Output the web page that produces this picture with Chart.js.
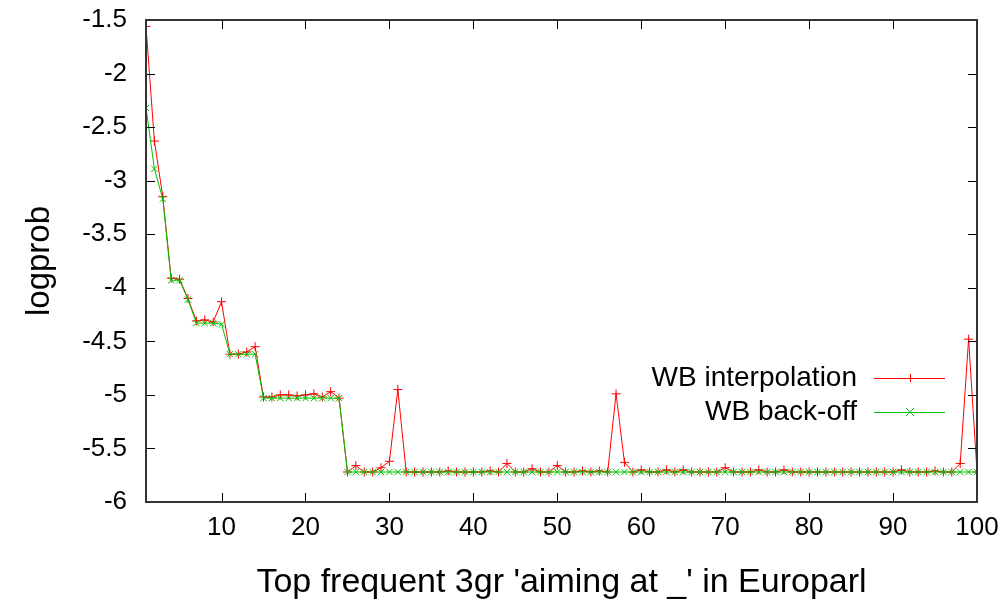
<!DOCTYPE html>
<html>
<head>
<meta charset="utf-8">
<title>logprob - aiming at _</title>
<script src="https://cdn.jsdelivr.net/npm/chart.js@4.4.1/dist/chart.umd.min.js"></script>
<style>
  html, body { margin: 0; padding: 0; background: #ffffff; }
  canvas { display: block; }
</style>
</head>
<body>
<canvas id="plotCanvas" width="1006" height="603"></canvas>
<script>
// --- Data ---
const rankLabels = Array.from({ length: 100 }, (_, i) => i + 1);

const interpolationValues = [
    -1.56, -2.63, -3.15, -3.91, -3.92, -4.10, -4.31, -4.30, -4.32, -4.13,
    -4.62, -4.62, -4.60, -4.55, -5.02, -5.02, -5.00, -5.00, -5.01, -5.00,
    -4.99, -5.02, -4.97, -5.03, -5.72, -5.66, -5.72, -5.72, -5.68, -5.62,
    -4.95, -5.72, -5.72, -5.72, -5.72, -5.72, -5.71, -5.72, -5.72, -5.72,
    -5.72, -5.71, -5.72, -5.64, -5.72, -5.72, -5.69, -5.72, -5.72, -5.66,
    -5.72, -5.72, -5.71, -5.72, -5.71, -5.72, -4.99, -5.63, -5.72, -5.70,
    -5.72, -5.72, -5.70, -5.72, -5.70, -5.72, -5.72, -5.72, -5.72, -5.68,
    -5.72, -5.72, -5.72, -5.70, -5.72, -5.72, -5.70, -5.72, -5.72, -5.72,
    -5.72, -5.72, -5.72, -5.72, -5.72, -5.72, -5.72, -5.72, -5.72, -5.72,
    -5.70, -5.72, -5.72, -5.72, -5.71, -5.72, -5.72, -5.64, -4.48, -5.72
];

const backoffValues = [
    -2.32, -2.89, -3.17, -3.93, -3.93, -4.11, -4.33, -4.33, -4.33, -4.34,
    -4.62, -4.62, -4.62, -4.62, -5.03, -5.03, -5.03, -5.03, -5.03, -5.03,
    -5.03, -5.03, -5.03, -5.03, -5.72, -5.72, -5.72, -5.72, -5.72, -5.72,
    -5.72, -5.72, -5.72, -5.72, -5.72, -5.72, -5.72, -5.72, -5.72, -5.72,
    -5.72, -5.72, -5.72, -5.72, -5.72, -5.72, -5.72, -5.72, -5.72, -5.72,
    -5.72, -5.72, -5.72, -5.72, -5.72, -5.72, -5.72, -5.72, -5.72, -5.72,
    -5.72, -5.72, -5.72, -5.72, -5.72, -5.72, -5.72, -5.72, -5.72, -5.72,
    -5.72, -5.72, -5.72, -5.72, -5.72, -5.72, -5.72, -5.72, -5.72, -5.72,
    -5.72, -5.72, -5.72, -5.72, -5.72, -5.72, -5.72, -5.72, -5.72, -5.72,
    -5.72, -5.72, -5.72, -5.72, -5.72, -5.72, -5.72, -5.72, -5.72, -5.72
];

const xTicks = [10, 20, 30, 40, 50, 60, 70, 80, 90, 100];
const yTicks = [-6, -5.5, -5, -4.5, -4, -3.5, -3, -2.5, -2, -1.5];

const seriesNames = ['WB interpolation', 'WB back-off'];
const xTitle = "Top frequent 3gr 'aiming at _' in Europarl";
const yTitle = 'logprob';

// --- Styling ---
const FONT_FAMILY = '"Liberation Sans", Arial, sans-serif';
const RED = '#ff0000';
const GREEN = '#00c000';

function toPoints(values) {
    return values.map((v, i) => ({ x: rankLabels[i], y: v }));
}

/**
 * Draws the gnuplot-like frame: box border, inward ticks mirrored on all sides,
 * and the key in the right part of the plot.
 */
const gnuplotFrame = {
    id: 'gnuplotFrame',
    afterDatasetsDraw(chart) {
        const { ctx, chartArea: a, scales } = chart;
        const tickLen = 9;
        ctx.save();
        ctx.strokeStyle = '#000000';
        ctx.lineWidth = 1;

        ctx.beginPath();
        scales.x.ticks.forEach(t => {
            const px = Math.round(scales.x.getPixelForValue(t.value)) + 0.5;
            ctx.moveTo(px, a.bottom); ctx.lineTo(px, a.bottom - tickLen);
            ctx.moveTo(px, a.top); ctx.lineTo(px, a.top + tickLen);
        });
        scales.y.ticks.forEach(t => {
            const py = Math.round(scales.y.getPixelForValue(t.value)) + 0.5;
            ctx.moveTo(a.left, py); ctx.lineTo(a.left + tickLen, py);
            ctx.moveTo(a.right, py); ctx.lineTo(a.right - tickLen, py);
        });
        ctx.stroke();

        ctx.strokeStyle = '#333333';
        ctx.lineWidth = 2;
        ctx.strokeRect(a.left, a.top, a.right - a.left, a.bottom - a.top);

        // key
        ctx.font = '28px ' + FONT_FAMILY;
        ctx.textAlign = 'right';
        ctx.textBaseline = 'middle';
        chart.data.datasets.forEach((ds, i) => {
            const y = a.top + 358 + i * 34;
            ctx.fillStyle = '#000000';
            ctx.fillText(ds.label, a.right - 120, y);
            ctx.strokeStyle = ds.borderColor;
            ctx.lineWidth = 1;
            ctx.beginPath();
            ctx.moveTo(a.right - 103, y + 0.5);
            ctx.lineTo(a.right - 32, y + 0.5);
            ctx.stroke();
            const cx = a.right - 67;
            const r = 4;
            ctx.beginPath();
            if (ds.pointStyle === 'cross') {
                ctx.moveTo(cx - r, y + 0.5); ctx.lineTo(cx + r, y + 0.5);
                ctx.moveTo(cx + 0.5, y - r); ctx.lineTo(cx + 0.5, y + r);
            } else {
                ctx.moveTo(cx - r, y - r); ctx.lineTo(cx + r, y + r);
                ctx.moveTo(cx - r, y + r); ctx.lineTo(cx + r, y - r);
            }
            ctx.stroke();
        });
        ctx.restore();
    }
};

const chart = new Chart(document.getElementById('plotCanvas'), {
    type: 'line',
    data: {
        datasets: [
            {
                label: seriesNames[0],
                data: toPoints(interpolationValues),
                borderColor: RED,
                backgroundColor: RED,
                borderWidth: 1,
                pointStyle: 'cross',
                pointRadius: 4.5,
                pointBorderWidth: 1,
                tension: 0,
                fill: false,
                order: 1
            },
            {
                label: seriesNames[1],
                data: toPoints(backoffValues),
                borderColor: GREEN,
                backgroundColor: GREEN,
                borderWidth: 1,
                pointStyle: 'crossRot',
                pointRadius: 4.5,
                pointBorderWidth: 1,
                tension: 0,
                fill: false,
                order: 0
            }
        ]
    },
    options: {
        responsive: false,
        devicePixelRatio: 1,
        animation: false,
        events: [],
        layout: { padding: { top: 20, right: 29, left: 0, bottom: 0 } },
        plugins: {
            legend: { display: false },
            tooltip: { enabled: false }
        },
        scales: {
            x: {
                type: 'linear',
                min: 1,
                max: 100,
                afterBuildTicks: scale => { scale.ticks = xTicks.map(v => ({ value: v })); },
                afterFit: scale => {
                    scale.height = 101;
                    scale.paddingLeft = 0;
                    scale.paddingRight = 0;
                },
                grid: { display: false, drawTicks: false },
                border: { display: false },
                ticks: {
                    color: '#000000',
                    font: { family: FONT_FAMILY, size: 26 },
                    padding: 10,
                    maxRotation: 0,
                    autoSkip: false,
                    callback: v => String(v)
                },
                title: {
                    display: true,
                    text: xTitle,
                    color: '#000000',
                    font: { family: FONT_FAMILY, size: 34 },
                    padding: { top: 0, bottom: 0 }
                }
            },
            y: {
                type: 'linear',
                min: -6,
                max: -1.5,
                afterBuildTicks: scale => { scale.ticks = yTicks.map(v => ({ value: v })); },
                afterFit: scale => {
                    scale.width = 146;
                    scale.paddingTop = 0;
                    scale.paddingBottom = 0;
                },
                grid: { display: false, drawTicks: false },
                border: { display: false },
                ticks: {
                    color: '#000000',
                    font: { family: FONT_FAMILY, size: 26 },
                    padding: 19,
                    autoSkip: false,
                    callback: v => String(v)
                },
                title: {
                    display: true,
                    text: yTitle,
                    color: '#000000',
                    font: { family: FONT_FAMILY, size: 33 },
                    padding: { top: 20, bottom: 0 }
                }
            }
        }
    },
    plugins: [gnuplotFrame]
});
</script>
</body>
</html>
